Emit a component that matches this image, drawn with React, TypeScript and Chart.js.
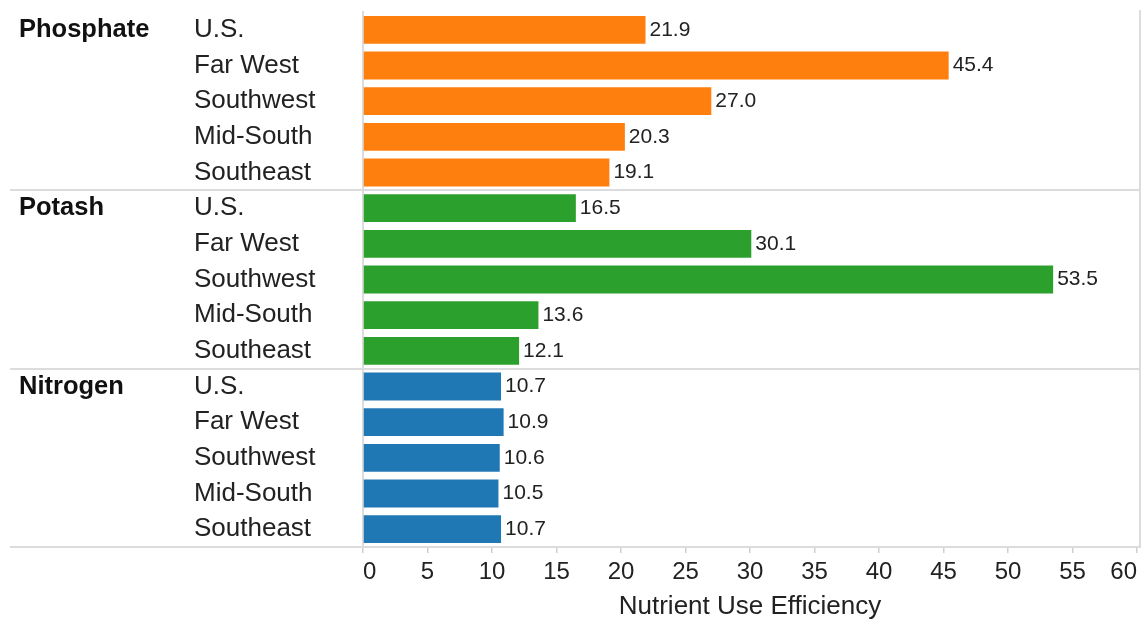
import React, { useEffect, useRef } from 'react';
import { Chart, registerables } from 'chart.js';

Chart.register(...registerables);

const groups = ['Phosphate', 'Potash', 'Nitrogen'];
const regions = ['U.S.', 'Far West', 'Southwest', 'Mid-South', 'Southeast'];
const phosphate = [21.9, 45.4, 27.0, 20.3, 19.1];
const potash = [16.5, 30.1, 53.5, 13.6, 12.1];
const nitrogen = [10.7, 10.9, 10.6, 10.5, 10.7];
const groupColors = ['#FF7F0E', '#2CA02C', '#1F77B4'];
const xMin = 0;
const xMax = 60;
const xStep = 5;
const axisTitle = 'Nutrient Use Efficiency';

const FONT = '"Liberation Sans", Arial, sans-serif';
const LINE = '#dcdcdc';
const TEXT = '#222';

export default function App() {
  const canvasRef = useRef<HTMLCanvasElement | null>(null);

  useEffect(() => {
    const canvas = canvasRef.current;
    if (!canvas) return;
    const seriesByGroup = [phosphate, potash, nitrogen];
    const labels: string[] = [];
    const values: number[] = [];
    const colors: string[] = [];
    groups.forEach((g, gi) => {
      regions.forEach((r, ri) => {
        labels.push(r);
        values.push(seriesByGroup[gi][ri]);
        colors.push(groupColors[gi]);
      });
    });

    const decor = {
      id: 'decor',
      afterDraw(chart: any) {
        const ctx = chart.ctx;
        const ca = chart.chartArea;
        const y = chart.scales.y;
        const n = regions.length;
        ctx.save();
        ctx.strokeStyle = LINE;
        ctx.lineWidth = 2;
        // group separators
        for (let g = 1; g < groups.length; g++) {
          const yy = (y.getPixelForValue(g * n - 1) + y.getPixelForValue(g * n)) / 2;
          ctx.beginPath();
          ctx.moveTo(10, Math.round(yy));
          ctx.lineTo(1141, Math.round(yy));
          ctx.stroke();
        }
        // bottom axis line
        ctx.beginPath();
        ctx.moveTo(10, ca.bottom);
        ctx.lineTo(1141, ca.bottom);
        ctx.stroke();
        // right border
        ctx.beginPath();
        ctx.moveTo(1140, ca.top - 2);
        ctx.lineTo(1140, ca.bottom);
        ctx.stroke();

        // group labels
        ctx.fillStyle = '#111';
        ctx.font = 'bold 25.5px ' + FONT;
        ctx.textAlign = 'left';
        ctx.textBaseline = 'middle';
        groups.forEach((g, gi) => {
          ctx.fillText(g, 19, y.getPixelForValue(gi * n));
        });

        // value labels
        ctx.fillStyle = TEXT;
        ctx.font = '21px ' + FONT;
        const meta = chart.getDatasetMeta(0);
        meta.data.forEach((bar: any, i: number) => {
          const v = chart.data.datasets[0].data[i] as number;
          ctx.fillText(v.toFixed(1), bar.x + 4, bar.y);
        });
        ctx.restore();
      },
    };

    const chart = new Chart(canvas, {
      type: 'bar',
      data: {
        labels,
        datasets: [
          {
            data: values,
            backgroundColor: colors,
            borderWidth: 0,
            categoryPercentage: 1,
            barPercentage: 0.78,
          },
        ],
      },
      options: {
        indexAxis: 'y',
        animation: false,
        responsive: true,
        maintainAspectRatio: false,
        layout: { padding: { left: 194, top: 12, right: 7, bottom: 0 } },
        plugins: {
          legend: { display: false },
          tooltip: { enabled: false },
        },
        scales: {
          x: {
            min: xMin,
            max: xMax,
            ticks: {
              stepSize: xStep,
              align: 'inner',
              autoSkip: false,
              maxRotation: 0,
              padding: 5,
              color: TEXT,
              font: { family: FONT, size: 24 },
            },
            grid: {
              drawOnChartArea: false,
              drawTicks: true,
              tickLength: 6,
              color: '#cfcfcf',
              lineWidth: 1.5,
            },
            border: { display: false },
            title: {
              display: true,
              text: axisTitle,
              color: TEXT,
              font: { family: FONT, size: 26, lineHeight: 0.9 },
              padding: { top: 0, bottom: 0 },
            },
            afterFit: (scale: any) => {
              scale.height = 72;
            },
          },
          y: {
            ticks: {
              crossAlign: 'far',
              color: TEXT,
              padding: 2,
              font: { family: FONT, size: 26, lineHeight: 0.5 },
              autoSkip: false,
            },
            grid: { display: false },
            border: { display: true, color: LINE, width: 2 },
            afterFit: (scale: any) => {
              scale.width = 169;
            },
          },
        },
      },
      plugins: [decor],
    } as any);

    return () => chart.destroy();
  }, []);

  return (
    <div
      style={{
        position: 'fixed',
        left: 0,
        top: 0,
        width: 1144,
        height: 619,
        background: '#fff',
      }}
    >
      <canvas ref={canvasRef} />
    </div>
  );
}
